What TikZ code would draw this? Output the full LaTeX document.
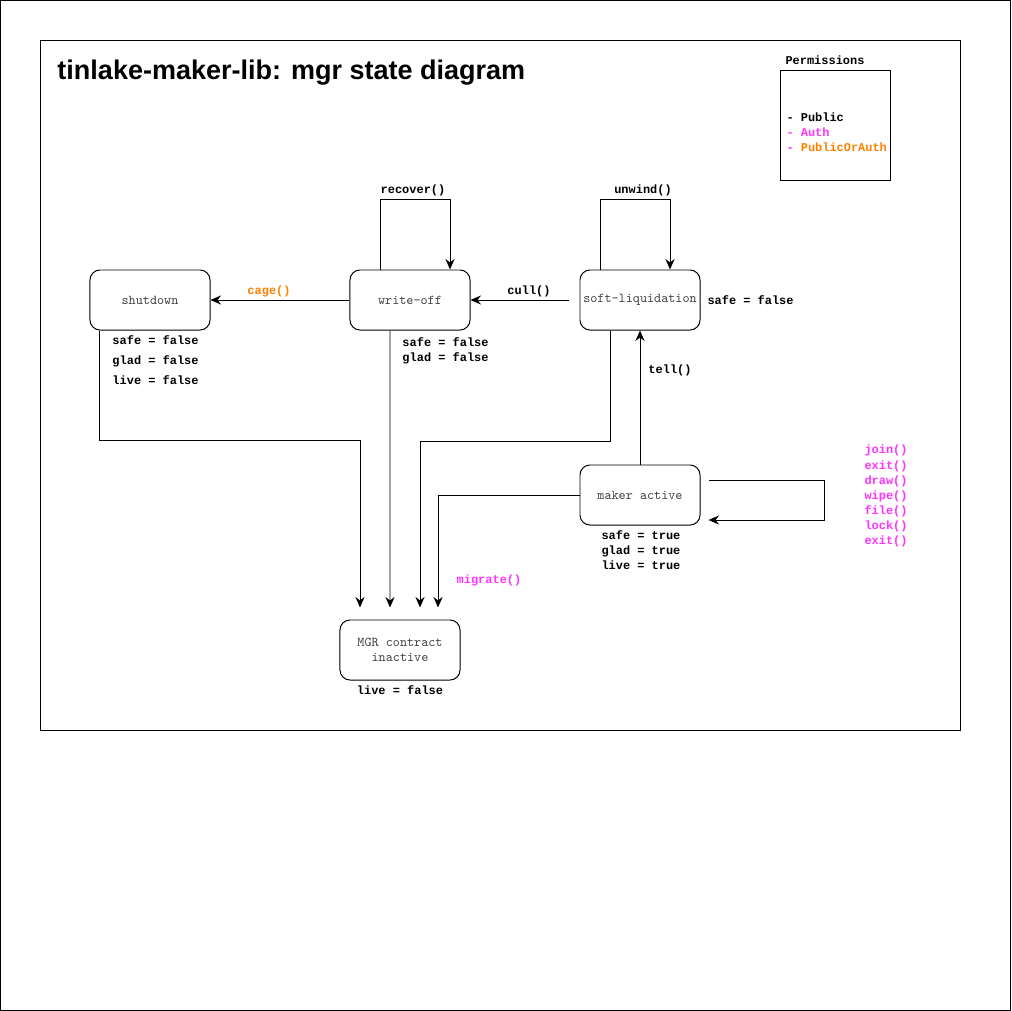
\documentclass[tikz,border=0pt]{standalone}
\usepackage{fontspec}
\setmainfont{Liberation Sans}
\newfontfamily\codefont{Liberation Mono}
\usetikzlibrary{arrows.meta}
\usepackage{xcolor}
\definecolor{authpink}{HTML}{FF33FF}
\definecolor{mixorange}{HTML}{FF8000}
\definecolor{boxgray}{HTML}{404040}

\begin{document}
\begin{tikzpicture}[x=0.025cm, y=-0.025cm, line width=0.7pt, >={Stealth[length=7.5pt,width=6.5pt,inset=2.5pt]},
  state/.style={draw, rounded corners=2.5mm, minimum width=3cm, minimum height=1.5cm, inner sep=0, text=boxgray, align=center, font=\ttfamily\fontsize{9.6}{10.7}\selectfont},
  flag/.style={inner sep=0, align=left, font=\codefont\bfseries\fontsize{8.5}{10.7}\selectfont},
  call/.style={flag, align=center}]
\useasboundingbox (0,0) rectangle (1011,1011);
\draw[line width=0.5pt] (0.5,0.5) rectangle (1010.5,1010.5);
\draw (40,40) rectangle (960,730);

\node[anchor=base west, inner sep=0, font=\bfseries\fontsize{19.2}{22}\selectfont] (title) at (57,80) {tinlake-maker-lib: mgr state diagram};

% permissions legend
\node[call] (permtitle) at (825,60) {Permissions};
\draw (780,70) rectangle (890,180);
\node[flag, anchor=west] (perm) at (786,132) {- Public\\\textcolor{authpink}{- Auth}\\\textcolor{authpink}{-} \textcolor{mixorange}{PublicOrAuth}};

% states
\node[state] (sd) at (150,300) {shutdown};
\node[state] (wo) at (410,300) {write-off};
\node[state] (slq) at (640,300) {soft-liquidation};
\node[state] (ma) at (640,495) {maker active};
\node[state] (mgr) at (400,650) {MGR contract\\inactive};

% flags
\node[flag, anchor=west, font=\codefont\bfseries\fontsize{8.5}{14.2}\selectfont] (sdflag) at (112,360) {safe = false\\glad = false\\live = false};
\node[flag, anchor=west] (woflag) at (402,350.5) {safe = false\\glad = false};
\node[flag, anchor=west] (slqflag) at (707,300) {safe = false};
\node[flag, anchor=west] (maflag) at (601,550) {safe = true\\glad = true\\live = true};
\node[flag] (mgrflag) at (400,690) {live = false};

% transitions
\draw[->] ([xshift=-0.75cm]wo.north) -- ++(0,-70) -| ([xshift=1cm]wo.north);
\node[call] (recover) at (413,190) {recover()};
\draw[->] ([xshift=-1cm]slq.north) -- ++(0,-70) -| ([xshift=0.75cm]slq.north);
\node[call] (unwind) at (643,190) {unwind()};
\draw[->] (wo.west) -- (sd.east);
\node[call, text=mixorange] (cage) at (269,291) {cage()};
\draw[->] ([xshift=-0.25cm]slq.west) -- (wo.east);
\node[call] (cull) at (529,291) {cull()};
\draw[->] (ma.north) -- (slq.south);
\node[call] (tell) at (670,370) {tell()};
\draw[->] ([xshift=0.2cm,yshift=0.375cm]ma.east) -- ++(116,0) |- ([xshift=0.2cm,yshift=-0.625cm]ma.east);
\node[flag, anchor=west, text=authpink] (auth) at (864,496) {join()\\exit()\\draw()\\wipe()\\file()\\lock()\\exit()};

% into inactive
\draw[->, shorten >=3mm] ([xshift=-1.25cm]sd.south) -- ++(0,110) -| ([xshift=-1cm]mgr.north);
\draw[->, shorten >=3mm] ([xshift=-0.5cm]wo.south) -- ([xshift=-0.25cm]mgr.north);
\draw[->, shorten >=3mm] ([xshift=-0.75cm]slq.south) -- ++(0,111) -| ([xshift=0.5cm]mgr.north);
\draw[->, shorten >=3mm] (ma.west) -| ([xshift=0.95cm]mgr.north);
\node[call, text=authpink] (migrate) at (489,580) {migrate()};
\end{tikzpicture}
\end{document}
